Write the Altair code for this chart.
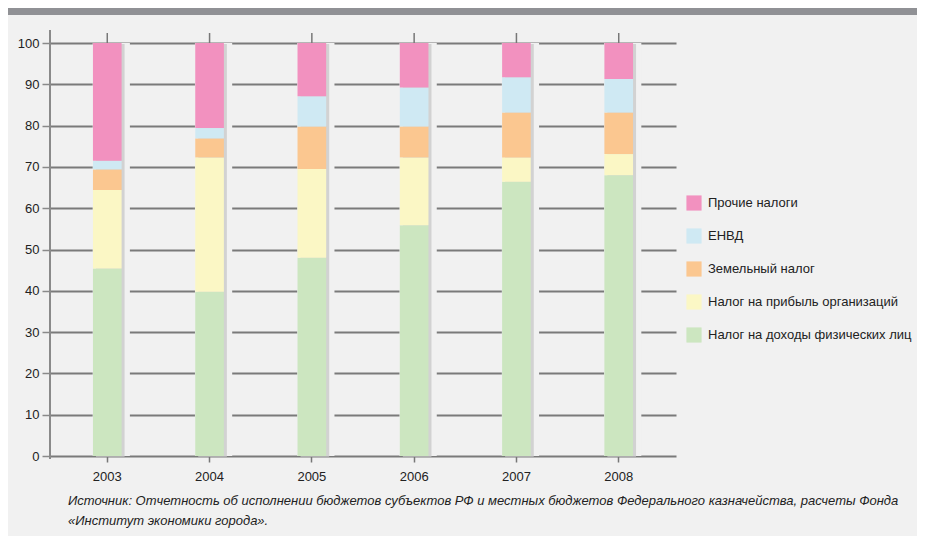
import altair as alt
import pandas as pd

years = ["2003", "2004", "2005", "2006", "2007", "2008"]
series = ["Прочие налоги", "ЕНВД", "Земельный налог",
          "Налог на прибыль организаций", "Налог на доходы физических лиц"]
colors = ["#f291bf", "#cfe9f3", "#fbc790", "#fbf7c5", "#cce6c0"]

ndfl = [45.4, 39.8, 48.0, 55.9, 66.4, 68.0]
profit = [19.0, 32.5, 21.5, 16.4, 5.9, 5.1]
land = [5.0, 4.6, 10.3, 7.5, 10.9, 10.1]
envd = [2.1, 2.5, 7.3, 9.4, 8.5, 8.1]
other = [28.5, 20.6, 12.9, 10.8, 8.3, 8.7]

values_by_series = {
    "Налог на доходы физических лиц": ndfl,
    "Налог на прибыль организаций": profit,
    "Земельный налог": land,
    "ЕНВД": envd,
    "Прочие налоги": other,
}
stack_order = {s: i for i, s in enumerate(reversed(series))}

rows = []
for s, vals in values_by_series.items():
    for y, v in zip(years, vals):
        rows.append({"year": y, "series": s, "value": v, "ord": stack_order[s]})
df = pd.DataFrame(rows)
totals = df.groupby("year", as_index=False)["value"].sum()

FONT = "Liberation Sans, Arial, sans-serif"
W, H = 626, 413
PAD_L, PAD_T, PAD_R, PAD_B = 42, 35, 241, 80

xscale = alt.Scale(domain=years, paddingInner=0.72, paddingOuter=0.42)
yscale = alt.Scale(domain=[0, 100], nice=False)

base = alt.Chart(df)

halo = alt.Chart(totals).mark_bar(
    color="#f1f1f1", width=alt.RelativeBandSize(1.3), xOffset=4
).encode(
    x=alt.X("year:N", scale=xscale, sort=years,
            axis=alt.Axis(title=None, domain=False, ticks=True, tickSize=6,
                          tickColor="#777777", tickWidth=1.5, labelFontSize=13,
                          labelPadding=8, labelAngle=0, labelColor="#222222",
                          labelFont=FONT, grid=False)),
    y=alt.Y("value:Q", scale=yscale,
            axis=alt.Axis(title=None, values=list(range(0, 101, 10)),
                          domain=False, tickSize=8, tickColor="#8a8a8a",
                          tickWidth=1.5, grid=True, gridColor="#7a7a7a",
                          gridWidth=2, labelFontSize=13, labelPadding=3,
                          labelColor="#222222", labelFont=FONT)),
)

shadow = alt.Chart(totals).mark_bar(
    color="#c4c4c4", opacity=0.7, xOffset=3, yOffset=1
).encode(
    x=alt.X("year:N", scale=xscale, sort=years),
    y=alt.Y("value:Q", scale=yscale),
)

bars = base.mark_bar().encode(
    x=alt.X("year:N", scale=xscale, sort=years),
    y=alt.Y("value:Q", scale=yscale, stack="zero"),
    color=alt.Color("series:N",
                    scale=alt.Scale(domain=series, range=colors),
                    legend=alt.Legend(title=None, orient="none",
                                      legendX=636, legendY=152,
                                      symbolType="square", symbolSize=230,
                                      symbolStrokeWidth=0, labelFontSize=13,
                                      labelFont=FONT, labelColor="#222222",
                                      labelOffset=6, rowPadding=17,
                                      labelLimit=300)),
    order=alt.Order("ord:Q", sort="ascending"),
)

top_ticks = alt.Chart(totals).mark_rule(color="#777777", strokeWidth=1.5).encode(
    x=alt.X("year:N", scale=xscale, sort=years),
    y=alt.value(-10), y2=alt.value(0),
)

yaxis_line = alt.Chart(totals).mark_rule(color="#8a8a8a", strokeWidth=1.5).encode(
    x=alt.value(0), y=alt.value(-13), y2=alt.value(H + 3),
)

header = alt.Chart(pd.DataFrame({"a": [0]})).mark_rect(color="#909195").encode(
    x=alt.value(-PAD_L), x2=alt.value(W + PAD_R),
    y=alt.value(-PAD_T), y2=alt.value(-PAD_T + 7),
)

chart = alt.layer(halo, shadow, bars, top_ticks, yaxis_line, header).properties(
    width=W, height=H,
    autosize=alt.AutoSizeParams(type="none"),
    padding={"left": PAD_L, "top": PAD_T, "right": PAD_R, "bottom": PAD_B},
    background="#f1f1f1",
    title=alt.TitleParams(
        text=["Источник: Отчетность об исполнении бюджетов субъектов РФ и местных бюджетов Федерального казначейства, расчеты Фонда",
              "«Институт экономики города»."],
        orient="bottom", anchor="start", frame="group", dx=18, offset=12,
        fontSize=13, fontStyle="italic", fontWeight="normal", font=FONT,
        color="#222222", lineHeight=20, limit=0),
).configure_view(stroke=None).configure_axis(labelFont=FONT)

chart.save("out.html", embed_options={"renderer": "svg", "actions": False})
